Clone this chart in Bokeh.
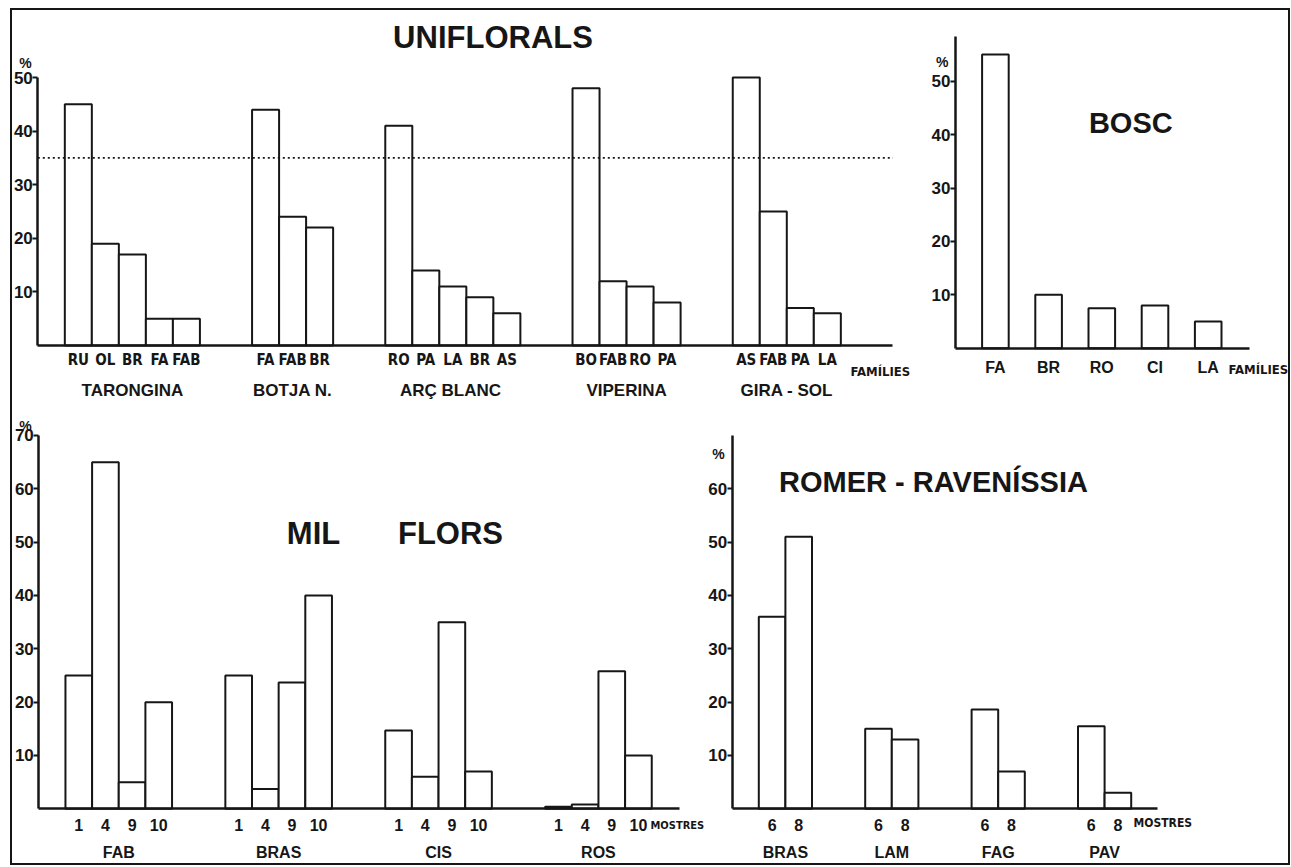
from bokeh.plotting import figure
from bokeh.models import Range1d, FixedTicker, LinearAxis, Label, ColumnDataSource
from bokeh.layouts import column, row
from bokeh.embed import file_html
from bokeh.resources import INLINE

# ---------------- data ----------------
uni_groups = ["TARONGINA", "BOTJA N.", "ARÇ  BLANC", "VIPERINA", "GIRA - SOL"]
uni_families = [
    ["RU", "OL", "BR", "FA", "FAB"],
    ["FA", "FAB", "BR"],
    ["RO", "PA", "LA", "BR", "AS"],
    ["BO", "FAB", "RO", "PA"],
    ["AS", "FAB", "PA", "LA"],
]
uni_values = [
    [45, 19, 17, 5, 5],
    [44, 24, 22],
    [41, 14, 11, 9, 6],
    [48, 12, 11, 8],
    [50, 25, 7, 6],
]
uni_threshold = 35
uni_yticks = [10, 20, 30, 40, 50]

bosc_families = ["FA", "BR", "RO", "CI", "LA"]
bosc_values = [55, 10, 7.5, 8, 5]
bosc_yticks = [10, 20, 30, 40, 50]

mil_groups = ["FAB", "BRAS", "CIS", "ROS"]
mil_samples = ["1", "4", "9", "10"]
mil_values = [
    [25, 65, 5, 20],
    [25, 3.7, 23.7, 40],
    [14.7, 6, 35, 7],
    [0.4, 0.8, 25.8, 10],
]
mil_yticks = [10, 20, 30, 40, 50, 60, 70]

rom_groups = ["BRAS", "LAM", "FAG", "PAV"]
rom_samples = ["6", "8"]
rom_values = [
    [36, 51],
    [15, 13],
    [18.6, 7],
    [15.5, 3],
]
rom_yticks = [10, 20, 30, 40, 50, 60]

# ---------------- styling ----------------
INK = "#161616"
SANS = "Liberation Sans"
NARROW = "DejaVu Sans Condensed"


class Geo:
    """Page geometry of one panel: figure origin/size and where data (0,0) sits."""
    def __init__(self, org, w, h, zero, sx, sy):
        self.ox, self.oy = org
        self.w, self.h = w, h
        self.zx, self.zy = zero
        self.sx, self.sy = sx, sy

    def xr(self):
        return Range1d(-(self.zx - self.ox) / self.sx, (self.ox + self.w - self.zx) / self.sx)

    def yr(self):
        return Range1d(-(self.oy + self.h - self.zy) / self.sy, (self.zy - self.oy) / self.sy)

    def at(self, px, py):
        return (px - self.zx) / self.sx, (self.zy - py) / self.sy


def make_fig(g):
    p = figure(width=g.w, height=g.h, x_range=g.xr(), y_range=g.yr(), title=None,
               output_backend="svg", toolbar_location=None, min_border=0,
               x_axis_type=None, y_axis_type=None)
    p.outline_line_color = None
    p.background_fill_color = "white"
    p.border_fill_color = "white"
    return p


def add_y_axis(p, ticks, top, size="17px"):
    ax = LinearAxis(ticker=FixedTicker(ticks=ticks, minor_ticks=[]), fixed_location=0,
                    bounds=(0, top))
    ax.axis_line_color = INK
    ax.axis_line_width = 2.5
    ax.major_tick_in = 0
    ax.major_tick_out = 5
    ax.major_tick_line_width = 2
    ax.major_tick_line_color = INK
    ax.minor_tick_line_color = None
    ax.major_label_standoff = 0
    ax.major_label_text_font = SANS
    ax.major_label_text_font_style = "bold"
    ax.major_label_text_font_size = size
    ax.major_label_text_color = INK
    p.add_layout(ax, "left")


def add_x_axis(p, positions, labels, right, font, size, standoff, line=True, style="bold"):
    ax = LinearAxis(ticker=FixedTicker(ticks=positions, minor_ticks=[]), fixed_location=0,
                    bounds=(0, right),
                    major_label_overrides={pos: lab for pos, lab in zip(positions, labels)})
    ax.axis_line_color = INK if line else None
    ax.axis_line_width = 2.5
    ax.major_tick_line_color = None
    ax.major_tick_in = 0
    ax.major_tick_out = 0
    ax.minor_tick_line_color = None
    ax.major_label_standoff = standoff
    ax.major_label_text_font = font
    ax.major_label_text_font_style = style
    ax.major_label_text_font_size = size
    ax.major_label_text_color = INK
    p.add_layout(ax, "below")


def add_bars(p, xs, tops):
    src = ColumnDataSource(dict(x=xs, top=tops))
    p.vbar(x="x", top="top", bottom=0, width=1.0, source=src,
           fill_color="white", line_color=INK, line_width=2)


def add_label(p, pos, text, size, font=SANS, style="bold", align="center"):
    p.add_layout(Label(x=pos[0], y=pos[1], text=text, text_font=font, text_font_size=size,
                       text_font_style=style, text_align=align, text_baseline="middle",
                       text_color=INK))


def grouped_positions(counts, pad_left, gap):
    centers, group_centers = [], []
    x = pad_left
    for n in counts:
        cs = [x + 0.5 + i for i in range(n)]
        centers.append(cs)
        group_centers.append((cs[0] + cs[-1]) / 2)
        x += n + gap
    return centers, group_centers, x - gap


# ---------------- UNIFLORALS ----------------
g1 = Geo((12, 10), 903, 400, (37.3, 345), 27.02, 5.36)
u_centers, u_gcent, u_last = grouped_positions([len(f) for f in uni_families], 1.0, 1.93)
u_right = u_last + 1.93
u_x = [c for cs in u_centers for c in cs]
f1 = make_fig(g1)
add_bars(f1, u_x, [v for vs in uni_values for v in vs])
f1.segment(x0=0, x1=u_right, y0=uni_threshold, y1=uni_threshold, line_color=INK,
           line_width=1.6, line_dash="2 3")
add_y_axis(f1, uni_yticks, max(uni_yticks))
add_x_axis(f1, u_x, [f for fs in uni_families for f in fs], u_right, NARROW, "15px", 5)
add_x_axis(f1, u_gcent, uni_groups, u_right, SANS, "17px", 35, line=False)
add_label(f1, g1.at(492.5, 37), "UNIFLORALS", "31px")
add_label(f1, g1.at(25, 62), "%", "14px")
add_label(f1, g1.at(850, 371), "FAMÍLIES", "13px", font=NARROW, align="left")

# ---------------- BOSC ----------------
g2 = Geo((915, 10), 373, 400, (955, 347.7), 26.6, 5.34)
b_centers, _, b_last = grouped_positions([1] * len(bosc_families), 1.0, 1.0)
b_right = b_last + 1.07
b_x = [cs[0] for cs in b_centers]
f2 = make_fig(g2)
add_bars(f2, b_x, bosc_values)
add_y_axis(f2, bosc_yticks, 58.4)
add_x_axis(f2, b_x, bosc_families, b_right, SANS, "16px", 11)
add_label(f2, g2.at(1130.3, 122), "BOSC", "29px")
add_label(f2, g2.at(941.7, 61.7), "%", "14px")
add_label(f2, g2.at(1228, 369), "FAMÍLIES", "13px", font=NARROW, align="left")

# ---------------- MIL FLORS ----------------
g3 = Geo((12, 410), 695, 453, (38.3, 808.3), 26.65, 5.333)
m_centers, m_gcent, m_last = grouped_positions([len(mil_samples)] * len(mil_groups), 1.0, 2.0)
m_right = m_last + 1.04
m_x = [c for cs in m_centers for c in cs]
f3 = make_fig(g3)
add_bars(f3, m_x, [v for vs in mil_values for v in vs])
add_y_axis(f3, mil_yticks, max(mil_yticks))
add_x_axis(f3, m_x, mil_samples * len(mil_groups), m_right, SANS, "16px", 10)
add_x_axis(f3, m_gcent, mil_groups, m_right, SANS, "16px", 35, line=False)
add_label(f3, g3.at(313, 533), "MIL", "31px")
add_label(f3, g3.at(450, 533), "FLORS", "31px")
add_label(f3, g3.at(25, 425), "%", "14px")
add_label(f3, g3.at(650, 825), "MOSTRES", "11px", font=NARROW, align="left")

# ---------------- ROMER - RAVENÍSSIA ----------------
g4 = Geo((707, 410), 581, 453, (731.7, 808.3), 26.6, 5.333)
r_centers, r_gcent, r_last = grouped_positions([len(rom_samples)] * len(rom_groups), 1.0, 2.0)
r_right = r_last + 1.0
r_x = [c for cs in r_centers for c in cs]
f4 = make_fig(g4)
add_bars(f4, r_x, [v for vs in rom_values for v in vs])
add_y_axis(f4, rom_yticks, 70)
add_x_axis(f4, r_x, rom_samples * len(rom_groups), r_right, SANS, "16px", 10)
add_x_axis(f4, r_gcent, rom_groups, r_right, SANS, "16px", 35, line=False)
add_label(f4, g4.at(933, 481.7), "ROMER - RAVENÍSSIA", "29px")
add_label(f4, g4.at(718, 453), "%", "14px")
add_label(f4, g4.at(1133, 822), "MOSTRES", "12px", font=NARROW, align="left")

layout = column(row(f1, f2), row(f3, f4),
                styles={"border": "2px solid #161616", "background-color": "white",
                        "margin-left": "10px", "margin-top": "8px"})

open("out.html", "w").write(file_html(layout, INLINE))
